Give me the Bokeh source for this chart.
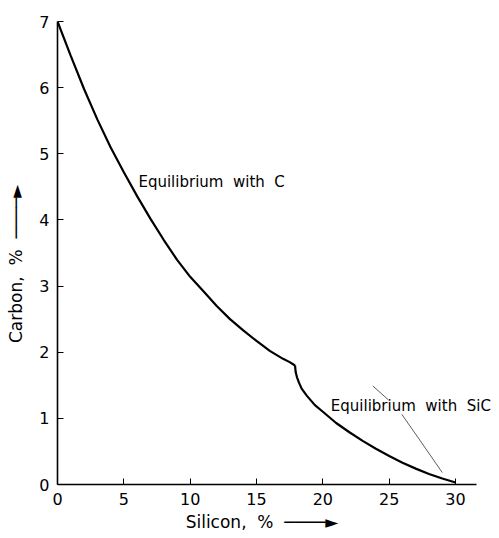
from bokeh.plotting import figure
from bokeh.models import Range1d, FixedTicker, Label
from bokeh.embed import file_html
from bokeh.resources import INLINE

# Curve: equilibrium with graphite (C), then with SiC
si_c = [0, 1, 2, 3, 4, 5, 6, 7, 8, 9, 10, 11, 12, 13, 14, 15, 16, 17, 17.5, 17.9]
c_c = [7.00, 6.48, 5.98, 5.52, 5.10, 4.72, 4.36, 4.02, 3.70, 3.40, 3.14, 2.92,
       2.70, 2.50, 2.33, 2.17, 2.02, 1.90, 1.85, 1.80]
si_sic = [17.9, 17.95, 18.05, 18.2, 18.4, 18.8, 19.4, 20, 21, 22, 23, 24, 25,
          26, 27, 28, 29, 30]
c_sic = [1.80, 1.70, 1.62, 1.54, 1.45, 1.34, 1.20, 1.10, 0.93, 0.79, 0.66,
         0.54, 0.43, 0.33, 0.24, 0.16, 0.09, 0.03]

# Leader line for the SiC label
leader_x = [[23.76, 24.94], [25.95, 27.45, 29.0]]
leader_y = [[1.49, 1.28], [1.06, 0.63, 0.18]]

label_texts = ["Equilibrium\u00a0 with\u00a0 C", "Equilibrium\u00a0 with\u00a0 SiC"]
label_x = [6.1, 20.6]
label_y = [4.57, 1.18]

x_ticks = [0, 5, 10, 15, 20, 25, 30]
y_ticks = [0, 1, 2, 3, 4, 5, 6, 7]

FONT = "DejaVu Sans"
NB = "\u00a0"
ARROW = "\u2500\u2500\u2500\u2500\u25ba"

p = figure(width=495, height=536, output_backend="svg", toolbar_location=None,
           x_range=Range1d(0, 32.86), y_range=Range1d(0, 7),
           min_border_left=57, min_border_right=2, min_border_top=21,
           min_border_bottom=52)
p.outline_line_color = None
p.xgrid.visible = False
p.ygrid.visible = False

p.line(si_c, c_c, line_color="black", line_width=2.2)
p.line(si_sic, c_sic, line_color="black", line_width=2.2)
p.multi_line(leader_x, leader_y, line_color="#333333", line_width=0.8)

for t, lx, ly in zip(label_texts, label_x, label_y):
    p.add_layout(Label(x=lx, y=ly, text=t, text_font=FONT,
                       text_font_size="15px", text_color="black",
                       text_baseline="middle", text_align="left"))

for ax, ticks in ((p.xaxis[0], x_ticks), (p.yaxis[0], y_ticks)):
    ax.ticker = FixedTicker(ticks=ticks)
    ax.minor_tick_line_color = None
    ax.major_tick_in = 6
    ax.major_tick_out = 0
    ax.axis_line_width = 1.6
    ax.axis_line_color = "black"
    ax.major_tick_line_color = "black"
    ax.major_label_text_font = FONT
    ax.major_label_text_font_size = "16px"
    ax.major_label_text_color = "black"
    ax.axis_label_text_font = FONT
    ax.axis_label_text_font_size = "17px"
    ax.axis_label_text_font_style = "normal"
    ax.axis_label_text_color = "black"

p.xaxis[0].bounds = (0, 31.6)
p.xaxis[0].axis_label = "Silicon," + NB * 2 + "%" + NB * 2 + ARROW + NB * 5
p.yaxis[0].axis_label = "Carbon," + NB * 2 + "%" + NB * 2 + ARROW + NB * 4
p.xaxis[0].major_label_standoff = 8
p.yaxis[0].major_label_standoff = 8
p.xaxis[0].axis_label_standoff = 4
p.yaxis[0].axis_label_standoff = 10

open("out.html", "w").write(file_html(p, INLINE))
